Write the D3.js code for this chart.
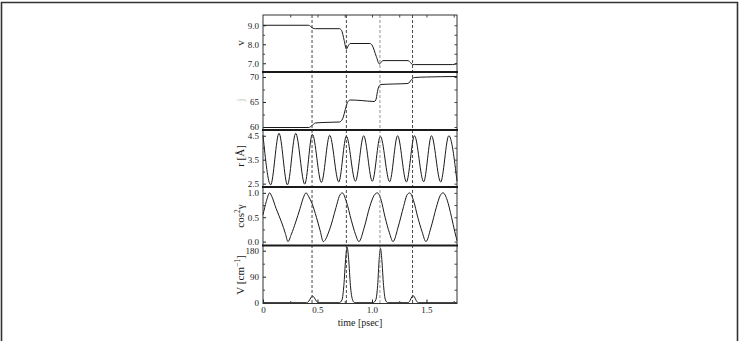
<!DOCTYPE html>
<html lang="en">
<head>
<meta charset="UTF-8" />
<script src="https://d3js.org/d3.v7.min.js"></script>
<title>Stacked time traces</title>
<style>
  body { margin: 0; background: #fff; }
  svg text { font-family: "Liberation Serif", "DejaVu Serif", serif; fill: #1a1a1a; }
</style>
</head>
<body>
<div id="chart-container"></div>
<script>
// time axis (psec)
const xTicks = [0, 0.5, 1.0, 1.5];
const xTickLabels = ["0", "0.5", "1.0", "1.5"];
const xMinorTicks = [0.25, 0.75, 1.25, 1.75];
const eventTimes = [0.45, 0.765, 1.073, 1.372];

// panel 1: v
const vTime  = [0, 0.42, 0.44, 0.46, 0.48, 0.70, 0.72, 0.745, 0.765, 0.78, 0.80, 0.98, 1.00, 1.04, 1.068, 1.085, 1.10, 1.33, 1.35, 1.375, 1.39, 1.74, 1.78];
const vValue = [9.0, 9.0, 8.92, 8.84, 8.82, 8.82, 8.74, 8.2, 7.74, 7.9, 8.04, 8.04, 7.96, 7.35, 6.96, 7.06, 7.14, 7.14, 7.05, 6.93, 6.93, 6.93, 6.98];
const vTicks = [9.0, 8.0, 7.0];
const vTickLabels = ["9.0", "8.0", "7.0"];

// panel 2: j
const jTime  = [0, 0.42, 0.45, 0.48, 0.55, 0.70, 0.73, 0.755, 0.775, 0.80, 0.90, 1.02, 1.035, 1.055, 1.08, 1.20, 1.33, 1.36, 1.39, 1.50, 1.78];
const jValue = [59.9, 59.9, 60.3, 60.8, 60.9, 61.0, 61.6, 63.5, 64.9, 65.4, 65.3, 65.1, 65.4, 67.6, 68.5, 68.6, 68.7, 69.4, 69.9, 70.0, 70.1];
const jTicks = [70, 65, 60];
const jTickLabels = ["70", "65", "60"];

// panel 3: r [Å] — turning points of the oscillation
const rTime  = [0, 0.070, 0.147, 0.224, 0.300, 0.383, 0.453, 0.536, 0.612, 0.695, 0.765, 0.848, 0.924, 1.003, 1.077, 1.162, 1.235, 1.316, 1.390, 1.474, 1.546, 1.630, 1.705, 1.78];
const rValue = [4.52, 2.45, 4.6, 2.45, 4.6, 2.48, 4.56, 2.55, 4.52, 2.57, 4.48, 2.6, 4.5, 2.6, 4.48, 2.58, 4.5, 2.57, 4.5, 2.58, 4.5, 2.57, 4.5, 2.6];
const rTicks = [4.5, 3.5, 2.5];
const rTickLabels = ["4.5", "3.5", "2.5"];

// panel 4: cos²γ
const cTime  = [0, 0.03, 0.061, 0.08, 0.12, 0.17, 0.205, 0.229, 0.26, 0.30, 0.34, 0.37, 0.395, 0.42, 0.45, 0.49, 0.525, 0.553,
                0.61, 0.67, 0.70, 0.728, 0.765, 0.81, 0.85, 0.88, 0.93, 0.98, 1.02, 1.05, 1.08, 1.12, 1.16, 1.193,
                1.24, 1.29, 1.32, 1.346, 1.38, 1.42, 1.46, 1.495, 1.54, 1.59, 1.625, 1.652, 1.69, 1.73, 1.76, 1.78];
const cValue = [0.55, 0.82, 1.0, 0.93, 0.68, 0.4, 0.17, 0.0, 0.15, 0.4, 0.68, 0.9, 1.0, 0.92, 0.78, 0.5, 0.22, 0.0,
                0.24, 0.7, 0.93, 1.0, 0.82, 0.44, 0.14, 0.0, 0.3, 0.72, 0.95, 1.0, 0.88, 0.5, 0.18, 0.0,
                0.3, 0.72, 0.95, 1.0, 0.85, 0.5, 0.2, 0.0, 0.28, 0.7, 0.94, 1.0, 0.85, 0.5, 0.2, 0.02];
const cTicks = [1.0, 0.5, 0.0];
const cTickLabels = ["1.0", "0.5", "0.0"];

// panel 5: V [cm^-1]
const pTime  = [0, 0.40, 0.42, 0.44, 0.455, 0.47, 0.49, 0.51, 0.70, 0.725, 0.742, 0.758, 0.772, 0.786, 0.802, 0.82, 0.84,
                1.01, 1.035, 1.052, 1.066, 1.078, 1.09, 1.106, 1.123, 1.145, 1.33, 1.35, 1.365, 1.378, 1.39, 1.405, 1.425, 1.78];
const pValue = [0, 0, 5, 18, 23, 18, 5, 0, 0, 10, 60, 150, 192, 150, 60, 12, 0,
                0, 10, 60, 150, 188, 150, 60, 10, 0, 0, 8, 20, 24, 20, 8, 0, 0];
const pTicks = [180, 90, 0];
const pTickLabels = ["180", "90", "0"];

const W = 740, H = 341;
const L = 263, R = 457;
const edges = [15, 72, 130, 187, 245.5, 303.5];

const panels = [
  { time: vTime, value: vValue, domain: [6.54, 9.54], ticks: vTicks, labels: vTickLabels, minor: [8.5, 7.5] },
  { time: jTime, value: jValue, domain: [59.4, 71], ticks: jTicks, labels: jTickLabels, minor: [67.5, 62.5] },
  { time: rTime, value: rValue, domain: [2.36, 4.74], ticks: rTicks, labels: rTickLabels, minor: [4.0, 3.0] },
  { time: cTime, value: cValue, domain: [-0.08, 1.12], ticks: cTicks, labels: cTickLabels, minor: [0.75, 0.25] },
  { time: pTime, value: pValue, domain: [-2.8, 198], ticks: pTicks, labels: pTickLabels, minor: [135, 45] },
];

const svg = d3.select("#chart-container").append("svg")
  .attr("width", W).attr("height", H);

// page frame
svg.append("path")
  .attr("d", `M1.5,${H} L1.5,2.5 L737.5,2.5 L737.5,${H}`)
  .attr("fill", "none").attr("stroke", "#333").attr("stroke-width", 1.6);

const x = d3.scaleLinear().domain([0, 1.78]).range([L, R]);

panels.forEach((p, i) => {
  const y = d3.scaleLinear().domain(p.domain).range([edges[i + 1], edges[i]]);
  const g = svg.append("g");

  // left axis
  g.append("g").attr("transform", `translate(${L},0)`)
    .call(d3.axisLeft(y).tickValues(p.ticks).tickSizeInner(-3).tickSizeOuter(0).tickPadding(4)
      .tickFormat((d, k) => p.labels[k]))
    .call(a => a.select(".domain").remove())
    .style("font-size", "9px").style("font-family", '"Liberation Serif", serif')
    .style("color", "#222");
  g.append("g").attr("transform", `translate(${L},0)`)
    .call(d3.axisLeft(y).tickValues(p.minor).tickSizeInner(-2).tickSizeOuter(0).tickFormat(""))
    .call(a => a.select(".domain").remove()).style("color", "#444");

  // right axis
  g.append("g").attr("transform", `translate(${R},0)`)
    .call(d3.axisRight(y).tickValues(p.ticks.concat(p.minor)).tickSizeInner(-2.5).tickSizeOuter(0).tickFormat(""))
    .call(a => a.select(".domain").remove()).style("color", "#444");

  const line = d3.line()
    .x((d, k) => x(p.time[k]))
    .y(d => y(d))
    .curve(d3.curveMonotoneX);

  g.append("path").datum(p.value)
    .attr("fill", "none").attr("stroke", "#1a1a1a").attr("stroke-width", 1)
    .attr("d", line);
});

// event markers
svg.append("g").selectAll("line").data(eventTimes).join("line")
  .attr("x1", d => x(d)).attr("x2", d => x(d))
  .attr("y1", edges[0]).attr("y2", edges[5])
  .attr("stroke", (d, i) => i === 2 ? "#888" : "#333")
  .attr("stroke-width", 0.9)
  .attr("stroke-dasharray", "3,2");

// bottom time axis
const xb = svg.append("g").attr("transform", `translate(0,${edges[5]})`);
xb.call(d3.axisBottom(x).tickValues(xTicks).tickSizeInner(-4).tickSizeOuter(0).tickPadding(3)
    .tickFormat((d, k) => xTickLabels[k]))
  .call(a => a.select(".domain").remove())
  .style("font-size", "9px").style("font-family", '"Liberation Serif", serif').style("color", "#222");
xb.append("g")
  .call(d3.axisBottom(x).tickValues(xMinorTicks.filter(t => t < 1.78)).tickSizeInner(-2.5).tickSizeOuter(0).tickFormat(""))
  .call(a => a.select(".domain").remove()).style("color", "#444");

svg.append("g").attr("transform", `translate(0,${edges[0]})`)
  .call(d3.axisTop(x).tickValues(xTicks.concat(xMinorTicks).filter(t => t > 0 && t < 1.78))
    .tickSizeInner(-2.5).tickSizeOuter(0).tickFormat(""))
  .call(a => a.select(".domain").remove()).style("color", "#444");

// frame and panel separators
svg.append("rect")
  .attr("x", L).attr("y", edges[0]).attr("width", R - L).attr("height", edges[5] - edges[0])
  .attr("fill", "none").attr("stroke", "#333").attr("stroke-width", 1);
svg.append("g").selectAll("line").data(edges.slice(1, 5)).join("line")
  .attr("x1", L - 1).attr("x2", R + 1).attr("y1", d => d).attr("y2", d => d)
  .attr("stroke", "#1a1a1a").attr("stroke-width", 1.8);

// axis titles
function yTitle(cy, build, color) {
  const t = svg.append("text")
    .attr("transform", `translate(244,${cy}) rotate(-90)`)
    .attr("text-anchor", "middle")
    .style("font-size", "11px");
  if (color) t.style("fill", color);
  build(t);
}
yTitle(43, t => t.text("v"));
yTitle(100, t => t.text("j"), "#bbb");
yTitle(156, t => t.text("r [Å]"));
yTitle(216, t => {
  t.append("tspan").text("cos");
  t.append("tspan").attr("dy", -4.5).style("font-size", "7.5px").text("2");
  t.append("tspan").attr("dy", 4.5).text("γ");
});
yTitle(275, t => {
  t.append("tspan").text("V [cm");
  t.append("tspan").attr("dy", -4.5).style("font-size", "7.5px").text("−1");
  t.append("tspan").attr("dy", 4.5).text("]");
});

svg.append("text")
  .attr("x", 360).attr("y", 326)
  .attr("text-anchor", "middle")
  .style("font-size", "10px")
  .text("time [psec]");
</script>
</body>
</html>
